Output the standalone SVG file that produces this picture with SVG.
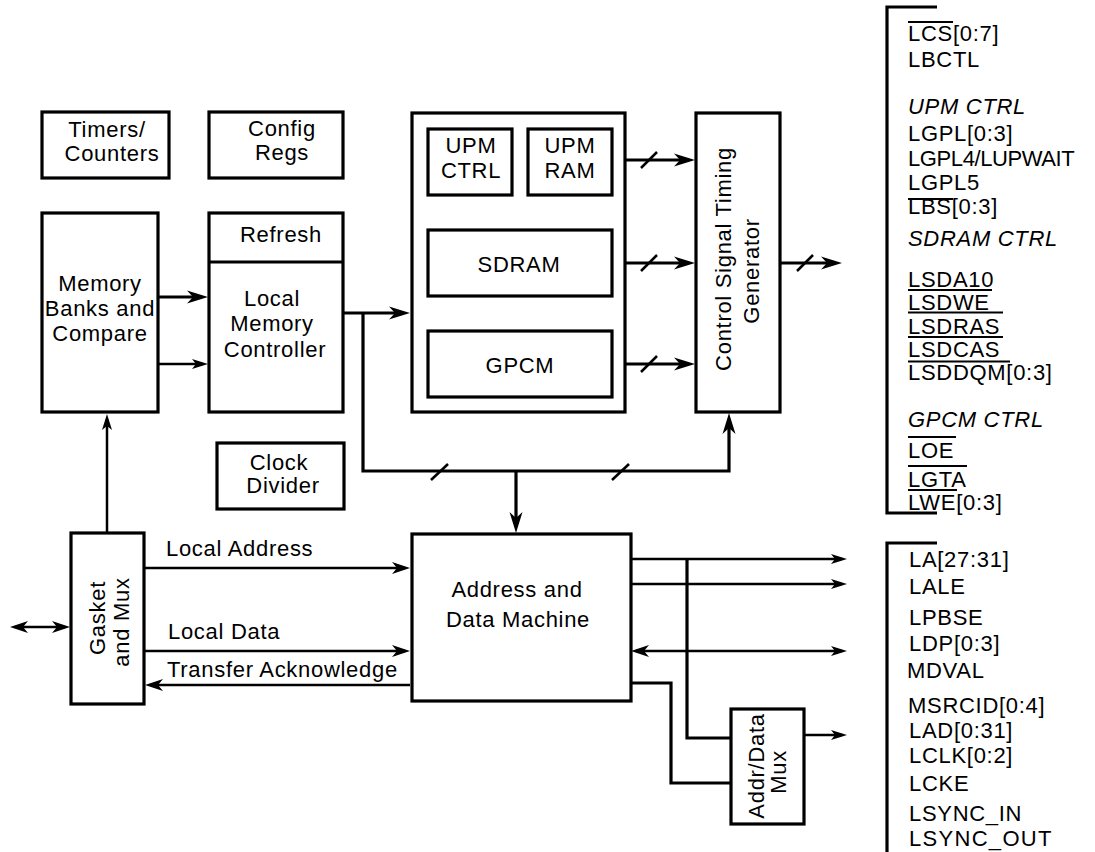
<svg xmlns="http://www.w3.org/2000/svg" width="1095" height="852" viewBox="0 0 1095 852">
<style>
.t{font-family:"Liberation Sans",Arial,Helvetica,sans-serif;font-size:22px;letter-spacing:0.7px;fill:#000}
.m{text-anchor:middle}
.i{font-style:italic}
.box{fill:#fff;stroke:#000;stroke-width:3.2}
.ln{fill:none;stroke:#000;stroke-width:2.5}
.th{fill:none;stroke:#000;stroke-width:3.2}
.ov{fill:none;stroke:#000;stroke-width:2}
</style>
<defs>
<marker id="big" viewBox="-22 -8 30 16" markerWidth="30" markerHeight="16" refX="-6" refY="0" markerUnits="userSpaceOnUse" orient="auto-start-reverse" overflow="visible"><path d="M0,0 L-21,-6.5 L-15,0 L-21,6.5 Z" fill="#000"/></marker>
<marker id="mid" viewBox="-22 -8 30 16" markerWidth="30" markerHeight="16" refX="-5" refY="0" markerUnits="userSpaceOnUse" orient="auto-start-reverse" overflow="visible"><path d="M0,0 L-18,-6 L-13,0 L-18,6 Z" fill="#000"/></marker>
<marker id="sm" viewBox="-22 -8 30 16" markerWidth="30" markerHeight="16" refX="-5" refY="0" markerUnits="userSpaceOnUse" orient="auto-start-reverse" overflow="visible"><path d="M0,0 L-16,-5 L-12,0 L-16,5 Z" fill="#000"/></marker>
</defs>

<g id="connectors">
<path class="th" d="M158,297 H202" marker-end="url(#big)"/>
<path class="ln" d="M158,364 H203" marker-end="url(#sm)"/>
<path class="th" d="M344,313 H404" marker-end="url(#big)"/>
<path class="th" d="M363,313 V471 H729 V419" marker-end="url(#big)"/>
<path class="th" d="M516,471 V527" marker-end="url(#big)"/>
<path class="ln" d="M107,532 V419" marker-end="url(#sm)"/>
<path class="ln" d="M15,627 H65" marker-start="url(#mid)" marker-end="url(#mid)"/>
<path class="ln" d="M145,568 H405" marker-end="url(#mid)"/>
<path class="ln" d="M145,651 H405" marker-end="url(#mid)"/>
<path class="ln" d="M410,685 H150" marker-end="url(#mid)"/>
<path class="th" d="M613,160 H689" marker-end="url(#big)"/>
<path class="th" d="M613,263 H689" marker-end="url(#big)"/>
<path class="th" d="M613,364 H689" marker-end="url(#big)"/>
<path class="th" d="M781,263 H836" marker-end="url(#big)"/>
<path class="th" d="M512,162 H528"/>
<path class="ln" d="M631,559 H842" marker-end="url(#sm)"/>
<path class="ln" d="M631,584 H842" marker-end="url(#sm)"/>
<path class="ln" d="M636,651 H842" marker-start="url(#mid)" marker-end="url(#sm)"/>
<path class="th" d="M687,559 V738 H730"/>
<path class="th" d="M631,683 H671 V783 H730"/>
<path class="ln" d="M805,735 H842" marker-end="url(#sm)"/>
<g class="ln">
<path d="M641,168 L657,152"/>
<path d="M641,271 L657,255"/>
<path d="M641,372 L657,356"/>
<path d="M797,271 L813,255"/>
<path d="M431,480 L448,464"/>
<path d="M612,480 L629,464"/>
</g>
</g>

<g id="timers"><rect class="box" x="42" y="112" width="127" height="66"/>
<text class="t m" x="107" y="137">Timers/</text><text class="t m" x="112" y="161">Counters</text></g>
<g id="config"><rect class="box" x="209" y="112" width="134" height="66"/>
<text class="t m" x="282" y="136">Config</text><text class="t m" x="282" y="160">Regs</text></g>
<g id="membanks"><rect class="box" x="42" y="213" width="116" height="199"/>
<text class="t m" x="100" y="291">Memory</text><text class="t m" x="100" y="316">Banks and</text><text class="t m" x="100" y="341">Compare</text></g>
<g id="lmc"><rect class="box" x="209" y="213" width="134" height="199"/><path class="th" d="M209,262 H343"/>
<text class="t m" x="281" y="242">Refresh</text>
<text class="t m" x="272" y="306">Local</text><text class="t m" x="272" y="331">Memory</text><text class="t m" x="275" y="357">Controller</text></g>
<g id="upm"><rect class="box" x="412" y="113" width="213" height="299"/></g>
<g id="upmctrl"><rect class="box" x="428" y="129" width="84" height="66"/>
<text class="t m" x="471" y="153">UPM</text><text class="t m" x="471" y="178">CTRL</text></g>
<g id="upmram"><rect class="box" x="528" y="129" width="84" height="66"/>
<text class="t m" x="570" y="153">UPM</text><text class="t m" x="570" y="178">RAM</text></g>
<g id="sdram"><rect class="box" x="428" y="230" width="184" height="66"/>
<text class="t m" x="519" y="272">SDRAM</text></g>
<g id="gpcm"><rect class="box" x="428" y="331" width="184" height="66"/>
<text class="t m" x="520" y="373">GPCM</text></g>
<g id="cstg"><rect class="box" x="696" y="113" width="84" height="299"/>
<text class="t m" transform="translate(731,259) rotate(-90)">Control Signal Timing</text>
<text class="t m" transform="translate(759,271) rotate(-90)">Generator</text></g>
<g id="clock"><rect class="box" x="217" y="443" width="127" height="66"/>
<text class="t m" x="279" y="470">Clock</text><text class="t m" x="283" y="493">Divider</text></g>
<g id="gasket"><rect class="box" x="71" y="533" width="73" height="171"/>
<text class="t m" transform="translate(105,618) rotate(-90)">Gasket</text>
<text class="t m" transform="translate(129,622) rotate(-90)">and Mux</text></g>
<g id="adm"><rect class="box" x="412" y="534" width="219" height="167"/>
<text class="t m" x="517" y="597">Address and</text><text class="t m" x="518" y="627">Data Machine</text></g>
<g id="mux"><rect class="box" x="731" y="709" width="73" height="115"/>
<text class="t m" transform="translate(764,766) rotate(-90)">Addr/Data</text>
<text class="t m" transform="translate(786,772) rotate(-90)">Mux</text></g>

<g id="labels">
<text class="t" x="166" y="556">Local Address</text>
<text class="t" x="168" y="639">Local Data</text>
<text class="t" x="167" y="677">Transfer Acknowledge</text>
</g>

<g id="ctrl-signals">
<path class="th" d="M937,7 H887 V513 H937"/>
<text class="t" x="908" y="41">LCS[0:7]</text>
<text class="t" x="908" y="67">LBCTL</text>
<text class="t i" x="908" y="114">UPM CTRL</text>
<text class="t" x="908" y="141">LGPL[0:3]</text>
<text class="t" x="908" y="166" style="letter-spacing:-0.4px">LGPL4/LUPWAIT</text>
<text class="t" x="908" y="190">LGPL5</text>
<text class="t" x="908" y="214">LBS[0:3]</text>
<text class="t i" x="908" y="246">SDRAM CTRL</text>
<text class="t" x="908" y="287">LSDA10</text>
<text class="t" x="908" y="310">LSDWE</text>
<text class="t" x="908" y="334">LSDRAS</text>
<text class="t" x="908" y="357">LSDCAS</text>
<text class="t" x="908" y="380">LSDDQM[0:3]</text>
<text class="t i" x="908" y="427">GPCM CTRL</text>
<text class="t" x="908" y="458">LOE</text>
<text class="t" x="908" y="487">LGTA</text>
<text class="t" x="908" y="510">LWE[0:3]</text>
<g class="ov">
<path d="M908,22 H953"/>
<path d="M908,199 H953"/>
<path d="M908,290 H992"/>
<path d="M908,312.5 H1003"/>
<path d="M908,337 H1003"/>
<path d="M908,361.5 H1010"/>
<path d="M908,437 H956"/>
<path d="M908,466 H967"/>
<path d="M908,490 H957"/>
</g>
</g>

<g id="bus-signals">
<path class="th" d="M937,543 H887 V852"/>
<text class="t" x="909" y="567">LA[27:31]</text>
<text class="t" x="909" y="594">LALE</text>
<text class="t" x="909" y="625">LPBSE</text>
<text class="t" x="909" y="651">LDP[0:3]</text>
<text class="t" x="907" y="678">MDVAL</text>
<text class="t" x="908" y="713">MSRCID[0:4]</text>
<text class="t" x="909" y="738">LAD[0:31]</text>
<text class="t" x="909" y="763">LCLK[0:2]</text>
<text class="t" x="909" y="791">LCKE</text>
<text class="t" x="909" y="821">LSYNC_IN</text>
<text class="t" x="909" y="846" style="letter-spacing:1.3px">LSYNC_OUT</text>
</g>
</svg>
